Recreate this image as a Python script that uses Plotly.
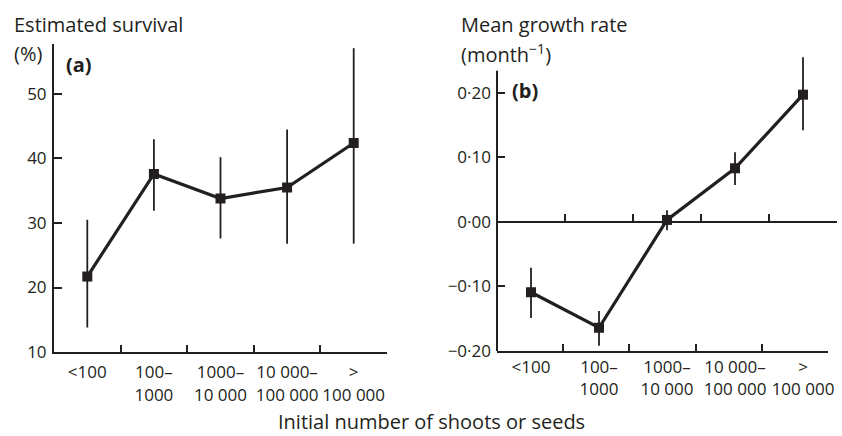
import plotly.graph_objects as go

categories = ["<100", "100–1000", "1000–10 000", "10 000–100 000", ">100 000"]
tick_labels = ["<100", "100–<br>1000", "1000–<br>10 000", "10 000–<br>100 000", "><br>100 000"]

survival = [21.7, 37.6, 33.8, 35.5, 42.4]
survival_upper = [30.5, 43.0, 40.2, 44.5, 57.1]
survival_lower = [13.8, 31.9, 27.6, 26.8, 26.8]

growth = [-0.109, -0.164, 0.003, 0.083, 0.197]
growth_upper = [-0.071, -0.138, 0.018, 0.108, 0.255]
growth_lower = [-0.149, -0.192, -0.013, 0.057, 0.142]

left_yticks = [10, 20, 30, 40, 50]
right_yticks = [-0.2, -0.1, 0.0, 0.1, 0.2]
right_yticktext = ["−0·20", "−0·10", "0·00", "0·10", "0·20"]

W, H = 842, 436
INK = "#231f20"
FONT = "Open Sans"
FS = 17
TS = 20
AW = 2

xi = list(range(len(categories)))
bounds = [0.5, 1.5, 2.5, 3.5, 4.5]

def px(x):
    return x / W

def py(y):
    return 1 - y / H

fig = go.Figure()

# empty helper traces so that the extra axes (tick rows / zero line) get drawn
for xa, ya in [("x3", "y"), ("x4", "y2"), ("x5", "y2")]:
    fig.add_trace(go.Scatter(x=[None], y=[None], mode="markers", xaxis=xa, yaxis=ya,
                             showlegend=False, hoverinfo="skip"))

fig.add_trace(go.Scatter(
    x=xi, y=survival, mode="lines+markers",
    line=dict(color=INK, width=3.2),
    marker=dict(symbol="square", size=10, color=INK),
    error_y=dict(type="data", symmetric=False,
                 array=[u - v for u, v in zip(survival_upper, survival)],
                 arrayminus=[v - l for v, l in zip(survival, survival_lower)],
                 color=INK, thickness=1.8, width=0),
    xaxis="x", yaxis="y", showlegend=False, cliponaxis=False,
))

fig.add_trace(go.Scatter(
    x=xi, y=growth, mode="lines+markers",
    line=dict(color=INK, width=3.2),
    marker=dict(symbol="square", size=10, color=INK),
    error_y=dict(type="data", symmetric=False,
                 array=[u - v for u, v in zip(growth_upper, growth)],
                 arrayminus=[v - l for v, l in zip(growth, growth_lower)],
                 color=INK, thickness=1.8, width=0),
    xaxis="x2", yaxis="y2", showlegend=False, cliponaxis=False,
))

y1dom = [py(352), py(44)]
y2dom = [py(351), py(54)]
y2range = [-0.2, 0.26]
zero_pos = y2dom[0] + (0 - y2range[0]) / (y2range[1] - y2range[0]) * (y2dom[1] - y2dom[0])

tickfont = dict(family=FONT, size=FS, color=INK)

fig.update_layout(
    width=W, height=H,
    margin=dict(l=0, r=0, t=0, b=0),
    paper_bgcolor="white", plot_bgcolor="rgba(0,0,0,0)",
    font=dict(family=FONT, size=FS, color=INK),
    xaxis=dict(domain=[px(54), px(387)], range=[-0.5, 4.5], anchor="y",
               showline=True, linecolor=INK, linewidth=AW,
               tickmode="array", tickvals=xi, ticktext=tick_labels,
               ticks="", ticklabelstandoff=4, showgrid=False, zeroline=False,
               tickfont=tickfont, automargin=False),
    xaxis3=dict(domain=[px(54), px(387)], range=[-0.5, 4.5], anchor="y",
                overlaying="x", showline=False,
                tickmode="array", tickvals=bounds, showticklabels=False,
                ticks="inside", ticklen=7, tickwidth=AW, tickcolor=INK,
                showgrid=False, zeroline=False, automargin=False),
    yaxis=dict(domain=y1dom, range=[10, 57.75], anchor="x",
               showline=True, linecolor=INK, linewidth=AW,
               tickmode="array", tickvals=left_yticks,
               ticks="inside", ticklen=8, tickwidth=AW, tickcolor=INK,
               ticklabelstandoff=2,
               showgrid=False, zeroline=False, tickfont=tickfont,
               automargin=False),
    xaxis2=dict(domain=[px(497), px(837)], range=[-0.5, 4.5], anchor="y2",
                showline=False, tickmode="array", tickvals=xi, ticktext=tick_labels,
                ticks="", ticklabelstandoff=4, showgrid=False, zeroline=False,
                tickfont=tickfont, automargin=False),
    xaxis4=dict(domain=[px(497), px(837)], range=[-0.5, 4.5], anchor="free",
                position=zero_pos, overlaying="x2",
                showline=True, linecolor=INK, linewidth=AW,
                tickmode="array", tickvals=bounds, showticklabels=False,
                ticks="inside", ticklen=7, tickwidth=AW, tickcolor=INK,
                showgrid=False, zeroline=False, automargin=False),
    xaxis5=dict(domain=[px(497), px(828)], range=[-0.5, 4.5], anchor="y2",
                showline=True, linecolor=INK, linewidth=AW,
                tickmode="array", tickvals=bounds, showticklabels=False,
                ticks="inside", ticklen=7, tickwidth=AW, tickcolor=INK,
                showgrid=False, zeroline=False, automargin=False),
    yaxis2=dict(domain=y2dom, range=y2range, anchor="x2",
                showline=False,
                tickmode="array", tickvals=right_yticks, ticktext=right_yticktext,
                ticks="inside", ticklen=8, tickwidth=AW, tickcolor=INK,
                ticklabelstandoff=5,
                showgrid=False, zeroline=False, tickfont=tickfont,
                automargin=False),
)

# right-panel vertical axis line (shorter than the plotting range)
fig.add_shape(type="line", xref="x2 domain", yref="y2", x0=0, x1=0, y0=-0.2, y1=0.234,
              line=dict(color=INK, width=AW))

ann = [
    dict(text="Estimated survival", x=px(12), y=py(24), xanchor="left", size=TS),
    dict(text="(%)", x=px(12), y=py(53), xanchor="left", size=TS),
    dict(text="Mean growth rate", x=px(459), y=py(24), xanchor="left", size=TS),
    dict(text="(month<sup>−1</sup>)", x=px(459), y=py(53), xanchor="left", size=TS),
    dict(text="<b>(a)</b>", x=px(64), y=py(65), xanchor="left", size=TS),
    dict(text="<b>(b)</b>", x=px(510), y=py(90), xanchor="left", size=TS),
    dict(text="Initial number of shoots or seeds", x=px(431), y=py(421), xanchor="center", size=TS),
]
for a in ann:
    fig.add_annotation(text=a["text"], x=a["x"], y=a["y"], xref="paper", yref="paper",
                       xanchor=a["xanchor"], yanchor="middle", showarrow=False,
                       font=dict(family=FONT, size=a["size"], color=INK))

fig.write_html("out.html", config={"displayModeBar": False},
               post_script="document.body.style.margin='0';")
